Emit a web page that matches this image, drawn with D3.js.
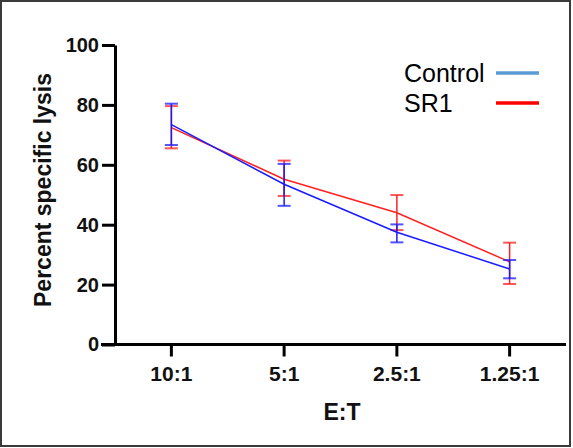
<!DOCTYPE html>
<html>
<head>
<meta charset="utf-8">
<script src="https://cdn.jsdelivr.net/npm/d3@7"></script>
<style>
  body { margin: 0; background: #fff; }
  svg text { font-family: "Liberation Sans", Arial, sans-serif; }
</style>
</head>
<body>
<div id="chart"></div>
<script>
// E:T ratios on the x axis
const ratios = ["10:1", "5:1", "2.5:1", "1.25:1"];
const yTicks = [0, 20, 40, 60, 80, 100];

// means
const controlMean = [73.4, 53.5, 37.5, 25.2];
const sr1Mean = [72.4, 55.2, 44.0, 27.6];
// error bar ends
const controlHi = [80.4, 60.3, 40.1, 28.2];
const controlLo = [66.6, 46.3, 34.1, 22.1];
const sr1Hi = [79.6, 61.4, 49.9, 34.0];
const sr1Lo = [65.5, 49.6, 38.2, 20.2];

const width = 573;
const height = 448;
const margin = {left: 115, right: 7, top: 45, bottom: 103.5};

const svg = d3.select("#chart")
  .append("svg")
  .attr("width", width)
  .attr("height", height);

// frame round the figure
svg.append("rect")
  .attr("x", 1).attr("y", 1)
  .attr("width", 569).attr("height", 445)
  .attr("fill", "none")
  .attr("stroke", "#3a3a3a")
  .attr("stroke-width", 2);

const xScale = d3.scaleBand()
  .domain(ratios)
  .range([margin.left, width - margin.right]);

const yScale = d3.scaleLinear()
  .domain([0, 100])
  .range([height - margin.bottom, margin.top]);

const xc = d => xScale(d) + xScale.bandwidth() / 2;

// y axis
const yAxis = svg.append("g")
  .attr("transform", `translate(${margin.left},0)`)
  .call(d3.axisLeft(yScale).tickValues(yTicks).tickSize(13).tickSizeOuter(0).tickPadding(3));
yAxis.select(".domain").attr("stroke", "#000").attr("stroke-width", 3);
yAxis.selectAll(".tick line").attr("stroke", "#000").attr("stroke-width", 3);
yAxis.selectAll("text")
  .attr("font-size", "20px").attr("font-weight", "bold").attr("fill", "#111")
  .attr("font-family", "Liberation Sans, Arial, sans-serif");

// x axis
const xAxis = svg.append("g")
  .attr("transform", `translate(0,${height - margin.bottom})`)
  .call(d3.axisBottom(xScale).tickSize(12).tickSizeOuter(0).tickPadding(10));
xAxis.select(".domain").attr("stroke", "#000").attr("stroke-width", 3)
  .attr("d", `M${margin.left - 14},0H${width - margin.right}`);
xAxis.selectAll(".tick line").attr("stroke", "#000").attr("stroke-width", 3);
xAxis.selectAll("text")
  .attr("font-size", "21px").attr("font-weight", "bold").attr("fill", "#111")
  .attr("font-family", "Liberation Sans, Arial, sans-serif");

// axis titles
svg.append("text")
  .attr("x", 342).attr("y", 420)
  .attr("text-anchor", "middle")
  .attr("font-size", "23px").attr("font-weight", "bold").attr("fill", "#111")
  .text("E:T");

svg.append("text")
  .attr("transform", "translate(51,190) rotate(-90)")
  .attr("text-anchor", "middle")
  .attr("font-size", "23px").attr("font-weight", "bold").attr("fill", "#111")
  .text("Percent specific lysis");

// series, SR1 first so control sits on top
const series = [
  {name: "SR1", mean: sr1Mean, hi: sr1Hi, lo: sr1Lo, color: "#ff2020", key: "#ff0000"},
  {name: "Control", mean: controlMean, hi: controlHi, lo: controlLo, color: "#1a1aff", key: "#5b9bd5"}
];

const line = d3.line()
  .x((d, i) => xc(ratios[i]))
  .y(d => yScale(d));

series.forEach(s => {
  const g = svg.append("g");
  g.append("path")
    .datum(s.mean)
    .attr("fill", "none")
    .attr("stroke", s.color)
    .attr("stroke-width", 1.5)
    .attr("d", line);

  const bars = g.selectAll(".err")
    .data(ratios)
    .enter()
    .append("g");
  bars.append("line")
    .attr("x1", d => xc(d)).attr("x2", d => xc(d))
    .attr("y1", (d, i) => yScale(s.hi[i]))
    .attr("y2", (d, i) => yScale(s.lo[i]))
    .attr("stroke", s.color).attr("stroke-width", 1.5);
  [s.hi, s.lo].forEach(vals => {
    bars.append("line")
      .attr("x1", d => xc(d) - 6.5).attr("x2", d => xc(d) + 6.5)
      .attr("y1", (d, i) => yScale(vals[i]))
      .attr("y2", (d, i) => yScale(vals[i]))
      .attr("stroke", s.color).attr("stroke-width", 2)
      .attr("stroke-opacity", 0.75);
  });
});

// legend
const legendOrder = [series[1], series[0]];
legendOrder.forEach((s, i) => {
  const y = 82 + i * 30;
  svg.append("text")
    .attr("x", 404).attr("y", y)
    .attr("font-size", "25px").attr("fill", "#000")
    .text(s.name);
  svg.append("line")
    .attr("x1", 496).attr("x2", 539)
    .attr("y1", y - 9).attr("y2", y - 9)
    .attr("stroke", s.key).attr("stroke-width", 3.5);
});
</script>
</body>
</html>
